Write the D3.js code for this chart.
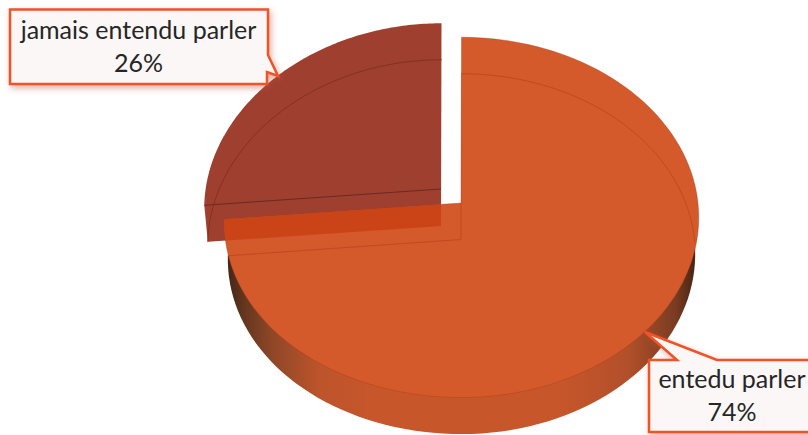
<!DOCTYPE html>
<html><head><meta charset="utf-8">
<script src="https://cdn.jsdelivr.net/npm/d3@7"></script>
<style>html,body{margin:0;padding:0;background:#fff;overflow:hidden}svg{display:block}text{font-family:Lato,"Noto Sans",sans-serif;fill:#262626}</style>
</head><body><svg id="c" width="808" height="435"></svg>
<script>
const categories = ["entedu parler", "jamais entendu parler"];
const shares = [74, 26];
const shareLabels = ["74%", "26%"];

const svg = d3.select("#c");
const defs = svg.append("defs");
const pie = d3.pie().sort(null).value(d => d)(shares);
const A = pie[0], B = pie[1];

const a = 236.5, b = 179, k = 0.08, depth = 36.5, shrink = 0.985, skew = 5;
function proj(cx, cy, theta, r, lower) {
  const u = r * Math.sin(theta), v = r * Math.cos(theta), w = 1 + k * v;
  const s = lower ? shrink : 1;
  return [cx + 0.5 + s * a * u / w, cy - b * v / w + (u < 0 ? skew * u * u : 0) + (lower ? depth : 0)];
}
const line = d3.line();
function arcPts(cx, cy, t0, t1, lower) {
  return d3.range(0, 121).map(i => proj(cx, cy, t0 + (t1 - t0) * i / 120, 1, lower));
}
const OA = [461, 203], OB = [441, 189];

const g = defs.append("linearGradient").attr("id", "side").attr("gradientUnits", "userSpaceOnUse")
  .attr("x1", 225).attr("x2", 699).attr("y1", 0).attr("y2", 0);
[[0, "#3f2315"], [0.04, "#64361f"], [0.1, "#8f4727"], [0.2, "#bd542b"], [0.32, "#c8562b"], [0.7, "#c8562b"], [0.85, "#b2502a"], [0.95, "#7a3c22"], [1, "#40200f"]]
  .forEach(d => g.append("stop").attr("offset", d[0]).attr("stop-color", d[1]));
const sh = defs.append("filter").attr("id", "shadow").attr("x", "-10%").attr("y", "-15%").attr("width", "125%").attr("height", "140%");
sh.append("feDropShadow").attr("dx", 2).attr("dy", 3).attr("stdDeviation", 3).attr("flood-color", "#c0503a").attr("flood-opacity", 0.45);

// exploded slice
const bTop = arcPts(OB[0], OB[1], B.startAngle, B.endAngle, false);
const bLow = arcPts(OB[0], OB[1], B.startAngle, B.endAngle, true);
const bShape = line([...bTop, [OB[0], OB[1] + depth + 0.5], bLow[0]]) + "Z";
defs.append("clipPath").attr("id", "bClip").append("path").attr("d", bShape);
svg.append("path").attr("d", bShape).attr("fill", "#9e3f30");
svg.append("path").attr("d", line(bLow)).attr("fill", "none").attr("stroke", "#86301f").attr("stroke-width", 1);
svg.append("path").attr("d", line([bTop[0], OB])).attr("fill", "none").attr("stroke", "#6b2a20").attr("stroke-width", 1);

// main slice
const aTop = arcPts(OA[0], OA[1], A.startAngle, A.endAngle, false);
const aLow = arcPts(OA[0], OA[1], A.startAngle, A.endAngle, true);
svg.append("path").attr("d", line([...aLow, [OA[0], OA[1] + depth]]) + "Z").attr("fill", "url(#side)");
const aShape = line([OA, ...aTop]) + "Z";
svg.append("path").attr("d", aShape).attr("fill", "#d4592b").attr("stroke", "#9c3f1c").attr("stroke-width", 0.6).attr("stroke-opacity", 0.6);
svg.append("path").attr("d", aShape).attr("fill", "#ca4418").attr("clip-path", "url(#bClip)");
svg.append("path").attr("d", line([[OA[0], OA[1] + depth], OA])).attr("fill", "none").attr("stroke", "#c24a20").attr("stroke-width", 1);
svg.append("path").attr("d", line(aLow.slice(0, 42))).attr("fill", "none").attr("stroke", "#c24a20").attr("stroke-width", 1);
svg.append("path").attr("d", line([[OA[0], OA[1] + depth], aLow[120]])).attr("fill", "none").attr("stroke", "#c24a20").attr("stroke-width", 1);

// callouts
function callout(pts, lines) {
  const gr = svg.append("g");
  gr.append("path").attr("d", line(pts) + "Z").attr("fill", "#fbf7f6").attr("stroke", "#ef5226")
    .attr("stroke-width", 2.5).attr("stroke-linejoin", "miter").attr("filter", "url(#shadow)");
  lines.forEach(l => gr.append("text").attr("x", l[1]).attr("y", l[2]).attr("text-anchor", "middle")
    .attr("font-size", 25).text(l[0]));
}
callout([[10, 9.5], [268, 9.5], [268, 55], [278, 76], [267, 72], [267, 84], [10, 84]],
  [[categories[1], 138.5, 39], [shareLabels[1], 138.5, 72]]);
callout([[649, 360], [677, 360], [645, 332], [717, 360], [830, 360], [830, 432], [649, 432]],
  [[categories[0], 732, 388], [shareLabels[0], 732, 421]]);
</script></body></html>
